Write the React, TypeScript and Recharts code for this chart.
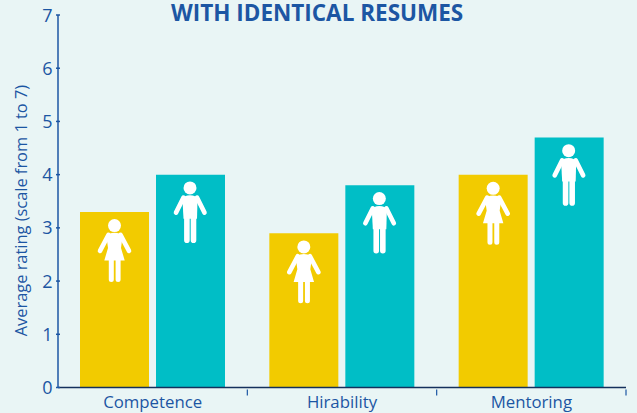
import { BarChart, Bar, XAxis, YAxis, LabelList } from 'recharts'

const categories = ['Competence', 'Hirability', 'Mentoring']
const womenRatings = [3.3, 2.9, 4.0]
const menRatings = [4.0, 3.8, 4.7]
const yTicks = [0, 1, 2, 3, 4, 5, 6, 7]

const data = categories.map((name, i) => ({
  name,
  women: womenRatings[i],
  men: menRatings[i],
}))

const WIDTH = 637
const HEIGHT = 413
const BG = '#e9f5f5'
const BLUE = '#1c56a3'
const DARK = '#14305c'
const YELLOW = '#f2cb00'
const TEAL = '#00bec6'
const FONT = '"Open Sans", sans-serif'
const HALF_BAND = 94.67

function YTick({ x, y, payload }: any) {
  return (
    <g>
      <line x1={x} x2={x + 4} y1={y} y2={y} stroke={BLUE} strokeWidth={1.5} />
      <text x={x - 3.5} y={y + 6.5} textAnchor="end" fill={BLUE} fontSize={18} fontFamily={FONT}>
        {payload.value}
      </text>
    </g>
  )
}

function XTick({ x, y, payload }: any) {
  return (
    <g>
      <line x1={x + HALF_BAND} x2={x + HALF_BAND} y1={y} y2={y - 6} stroke={BLUE} strokeWidth={1.2} />
      <text x={x} y={y + 12} textAnchor="middle" fill={BLUE} fontSize={16.8} fontFamily={FONT}>
        {payload.value}
      </text>
    </g>
  )
}

function Woman({ x, y, width }: any) {
  const cx = x + width / 2
  return (
    <g transform={`translate(${cx},${y})`} fill="#fff" stroke="#fff" strokeLinecap="round">
      <circle cx={0} cy={13.7} r={6.5} stroke="none" />
      <path d="M-8,25 Q-6,20.8 0,20.8 Q6,20.8 8,25 L6.5,36 L10.2,48.7 L-10.2,48.7 L-6.5,36 Z" stroke="none" />
      <path d="M-6,23 L-14.5,39 M6,23 L14.5,39" strokeWidth={4.6} fill="none" />
      <path d="M-3.2,47 L-3.2,67.5 M3.6,47 L3.6,67.5" strokeWidth={5} fill="none" />
    </g>
  )
}

function Man({ x, y, width }: any) {
  const cx = x + width / 2
  return (
    <g transform={`translate(${cx},${y})`} fill="#fff" stroke="#fff" strokeLinecap="round">
      <circle cx={-0.5} cy={13.3} r={6.5} stroke="none" />
      <path d="M-8,25 Q-6.5,20.6 -0.5,20.6 Q5.5,20.6 7,25 L6.5,44 L-7,44 Z" stroke="none" />
      <path d="M-7,23 L-14.5,38 M6.5,23 L14,38" strokeWidth={4.6} fill="none" />
      <path d="M-3.6,42 L-3.6,65.5 M3,42 L3,65.5" strokeWidth={5.6} fill="none" />
    </g>
  )
}

export default function App() {
  return (
    <div style={{ position: 'fixed', left: 0, top: 0, width: WIDTH, height: HEIGHT, background: BG, overflow: 'hidden' }}>
      <div style={{
        position: 'absolute', left: 171, top: 2, color: BLUE, fontFamily: FONT,
        fontWeight: 700, fontSize: 22.5, lineHeight: '22.5px', whiteSpace: 'nowrap',
      }}>
        WITH IDENTICAL RESUMES
      </div>
      <BarChart
        width={WIDTH}
        height={HEIGHT}
        data={data}
        margin={{ top: 15, right: 11, bottom: 0, left: 18 }}
        barCategoryGap={22}
        barGap={7}
        barSize={69}
      >
        <XAxis
          dataKey="name"
          height={25.5}
          interval={0}
          tick={<XTick />}
          tickLine={false}
          axisLine={{ stroke: DARK, strokeWidth: 1.5 }}
        />
        <YAxis
          width={40}
          domain={[0, 7]}
          ticks={yTicks}
          interval={0}
          tick={<YTick />}
          tickLine={false}
          tickSize={0}
          axisLine={{ stroke: BLUE, strokeWidth: 1.5 }}
          label={{
            value: 'Average rating (scale from 1 to 7)',
            angle: -90,
            position: 'insideLeft',
            fill: BLUE,
            fontSize: 16.4,
            fontFamily: FONT,
            dx: -2,
            dy: 135,
          }}
        />
        <Bar dataKey="women" fill={YELLOW} isAnimationActive={false}>
          <LabelList dataKey="women" content={<Woman />} />
        </Bar>
        <Bar dataKey="men" fill={TEAL} isAnimationActive={false}>
          <LabelList dataKey="men" content={<Man />} />
        </Bar>
      </BarChart>
    </div>
  )
}
